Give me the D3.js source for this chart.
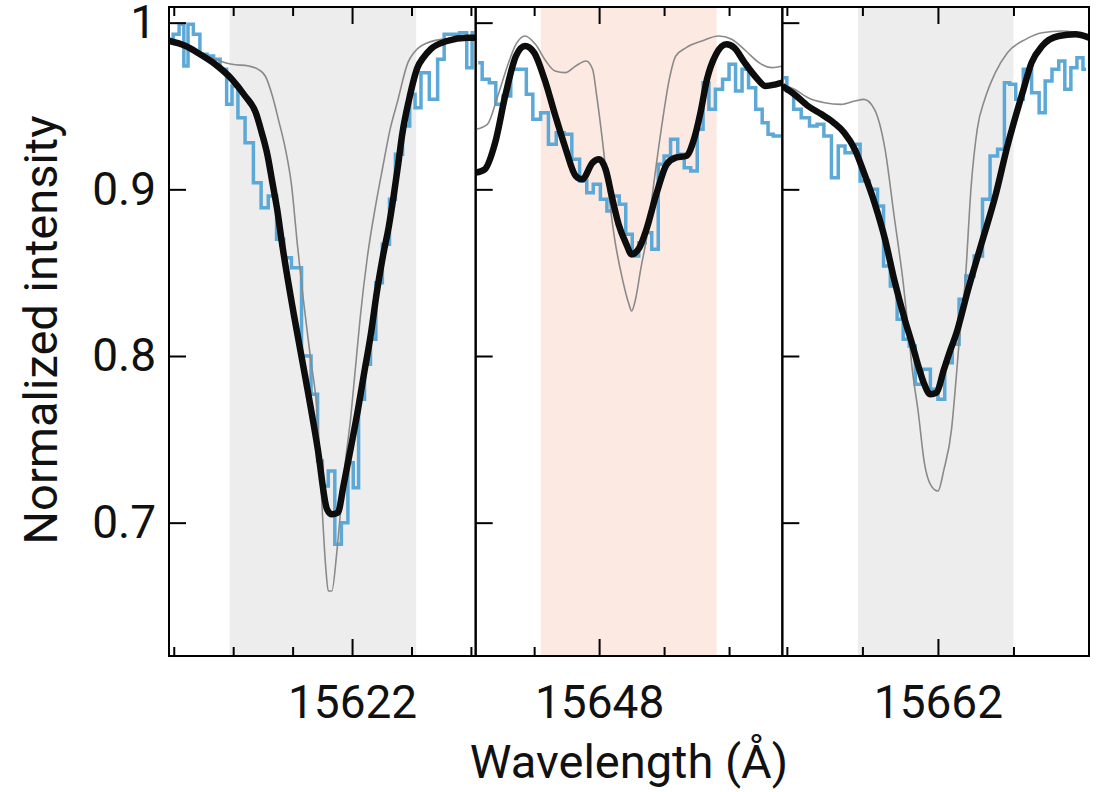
<!DOCTYPE html>
<html>
<head>
<meta charset="utf-8">
<style>
  body { margin: 0; background: #fff; }
  .frame { fill: none; stroke: #000; stroke-width: 2; }
  .tick line { stroke: #000; stroke-width: 2; }
  .tick text { font-family: Roboto, sans-serif; font-size: 46px; fill: #111; }
  .label { font-family: Roboto, sans-serif; font-size: 47px; fill: #111; }
</style>
<title>Normalized intensity vs wavelength</title>
</head>
<body>
<script src="https://cdn.jsdelivr.net/npm/d3@7"></script>
<script>

// wavelength windows (Å) and highlighted regions
var range1 = [15620.46, 15623.04], range2 = [15647.05, 15649.41], range3 = [15660.97, 15663.0];
var band1 = [15620.97, 15622.54], band2 = [15647.55, 15648.905], band3 = [15661.47, 15662.50];

// tick values
var yTicks = [0.7, 0.8, 0.9, 1];
var major1 = [15622], minor1 = [15620.5, 15621, 15621.5, 15622.5, 15623];
var major2 = [15648], minor2 = [15647.5, 15648.5, 15649];
var major3 = [15662], minor3 = [15661, 15661.5, 15662.5];

// observed spectrum (binned), [wavelength, intensity]
var obs1 = [[15620.47,0.990],[15620.52,0.993],[15620.57,0.999],[15620.60,0.974],[15620.64,0.999],[15620.69,0.993],[15620.75,0.981],[15620.81,0.980],[15620.86,0.978],[15620.92,0.972],[15620.97,0.951],[15621.01,0.962],[15621.07,0.943],[15621.13,0.928],[15621.21,0.904],[15621.26,0.889],[15621.33,0.896],[15621.40,0.870],[15621.45,0.859],[15621.53,0.853],[15621.62,0.800],[15621.69,0.777],[15621.73,0.737],[15621.77,0.722],[15621.83,0.731],[15621.88,0.687],[15621.94,0.700],[15621.99,0.736],[15622.03,0.721],[15622.08,0.774],[15622.13,0.795],[15622.18,0.810],[15622.22,0.844],[15622.29,0.867],[15622.34,0.894],[15622.39,0.921],[15622.46,0.938],[15622.51,0.957],[15622.55,0.949],[15622.61,0.970],[15622.69,0.954],[15622.75,0.978],[15622.80,0.993],[15622.87,0.993],[15622.94,0.994],[15622.99,0.973],[15623.03,0.994]];
var obs2 = [[15647.07,0.976],[15647.13,0.966],[15647.18,0.964],[15647.23,0.951],[15647.29,0.956],[15647.35,0.972],[15647.42,0.972],[15647.46,0.957],[15647.52,0.942],[15647.58,0.946],[15647.64,0.927],[15647.70,0.934],[15647.76,0.933],[15647.82,0.918],[15647.88,0.905],[15647.93,0.898],[15647.98,0.903],[15648.04,0.894],[15648.08,0.887],[15648.13,0.896],[15648.18,0.891],[15648.23,0.873],[15648.28,0.860],[15648.33,0.868],[15648.38,0.874],[15648.43,0.864],[15648.48,0.915],[15648.52,0.920],[15648.58,0.930],[15648.63,0.921],[15648.68,0.913],[15648.73,0.911],[15648.78,0.936],[15648.82,0.964],[15648.87,0.948],[15648.92,0.960],[15648.98,0.966],[15649.02,0.975],[15649.08,0.959],[15649.12,0.972],[15649.18,0.961],[15649.23,0.948],[15649.28,0.940],[15649.32,0.933],[15649.36,0.932],[15649.40,0.932]];
var obs3 = [[15660.98,0.967],[15661.02,0.959],[15661.07,0.948],[15661.12,0.943],[15661.18,0.938],[15661.22,0.939],[15661.27,0.932],[15661.32,0.907],[15661.36,0.926],[15661.41,0.922],[15661.46,0.927],[15661.51,0.905],[15661.58,0.900],[15661.62,0.890],[15661.66,0.854],[15661.71,0.842],[15661.75,0.822],[15661.79,0.810],[15661.83,0.806],[15661.87,0.783],[15661.92,0.792],[15661.98,0.780],[15662.02,0.774],[15662.07,0.796],[15662.12,0.807],[15662.16,0.834],[15662.21,0.848],[15662.27,0.860],[15662.32,0.894],[15662.37,0.920],[15662.42,0.924],[15662.46,0.964],[15662.49,0.963],[15662.54,0.954],[15662.59,0.972],[15662.65,0.958],[15662.69,0.946],[15662.73,0.965],[15662.78,0.972],[15662.82,0.977],[15662.86,0.960],[15662.90,0.973],[15662.94,0.979],[15662.98,0.972]];

// best fit (thick black)
var fit1 = [[15620.46,0.989],[15620.60,0.986],[15620.70,0.982],[15620.85,0.975],[15620.99,0.966],[15621.10,0.956],[15621.19,0.946],[15621.24,0.934],[15621.29,0.920],[15621.33,0.904],[15621.37,0.888],[15621.41,0.868],[15621.51,0.825],[15621.61,0.786],[15621.71,0.745],[15621.79,0.708],[15621.83,0.705],[15621.88,0.706],[15621.93,0.723],[15621.99,0.745],[15622.05,0.768],[15622.10,0.789],[15622.16,0.814],[15622.21,0.839],[15622.26,0.860],[15622.31,0.878],[15622.35,0.896],[15622.39,0.916],[15622.42,0.932],[15622.48,0.954],[15622.52,0.966],[15622.55,0.973],[15622.60,0.979],[15622.66,0.984],[15622.80,0.989],[15622.97,0.991],[15623.04,0.991]];
var fit2 = [[15647.05,0.910],[15647.12,0.912],[15647.20,0.928],[15647.28,0.957],[15647.36,0.980],[15647.43,0.986],[15647.50,0.982],[15647.58,0.966],[15647.66,0.945],[15647.74,0.925],[15647.82,0.908],[15647.87,0.906],[15647.95,0.916],[15648.00,0.918],[15648.05,0.912],[15648.10,0.895],[15648.15,0.879],[15648.21,0.867],[15648.25,0.861],[15648.31,0.865],[15648.36,0.875],[15648.44,0.897],[15648.52,0.915],[15648.59,0.919],[15648.67,0.920],[15648.73,0.930],[15648.78,0.946],[15648.83,0.966],[15648.90,0.981],[15648.98,0.987],[15649.04,0.985],[15649.12,0.976],[15649.21,0.967],[15649.28,0.962],[15649.36,0.963],[15649.41,0.964]];
var fit3 = [[15660.97,0.962],[15661.05,0.957],[15661.14,0.950],[15661.23,0.945],[15661.31,0.940],[15661.38,0.934],[15661.45,0.924],[15661.51,0.910],[15661.58,0.892],[15661.65,0.870],[15661.71,0.846],[15661.78,0.822],[15661.83,0.807],[15661.87,0.794],[15661.91,0.783],[15661.95,0.777],[15661.99,0.778],[15662.04,0.792],[15662.08,0.803],[15662.12,0.813],[15662.20,0.840],[15662.29,0.868],[15662.38,0.896],[15662.46,0.926],[15662.56,0.958],[15662.62,0.976],[15662.69,0.986],[15662.80,0.992],[15662.91,0.993],[15663.00,0.991]];

// reference model (thin grey)
var model1 = [[15620.46,0.988],[15620.60,0.986],[15620.70,0.982],[15620.85,0.978],[15620.99,0.975],[15621.13,0.974],[15621.21,0.972],[15621.27,0.968],[15621.33,0.956],[15621.38,0.942],[15621.44,0.924],[15621.49,0.903],[15621.54,0.867],[15621.59,0.834],[15621.65,0.799],[15621.71,0.762],[15621.74,0.720],[15621.78,0.672],[15621.80,0.659],[15621.83,0.659],[15621.87,0.681],[15621.90,0.704],[15621.94,0.734],[15621.99,0.764],[15622.03,0.794],[15622.07,0.824],[15622.13,0.860],[15622.20,0.891],[15622.26,0.914],[15622.32,0.936],[15622.38,0.952],[15622.47,0.976],[15622.52,0.982],[15622.58,0.986],[15622.75,0.990],[15622.97,0.991],[15623.04,0.991]];
var model2 = [[15647.05,0.936],[15647.14,0.939],[15647.22,0.956],[15647.29,0.973],[15647.36,0.987],[15647.43,0.992],[15647.51,0.987],[15647.59,0.977],[15647.66,0.971],[15647.74,0.970],[15647.82,0.974],[15647.90,0.977],[15647.95,0.972],[15647.98,0.957],[15648.02,0.933],[15648.06,0.906],[15648.12,0.870],[15648.18,0.846],[15648.23,0.831],[15648.25,0.827],[15648.28,0.834],[15648.32,0.852],[15648.37,0.873],[15648.42,0.903],[15648.48,0.937],[15648.54,0.966],[15648.59,0.980],[15648.67,0.985],[15648.79,0.989],[15648.92,0.992],[15649.02,0.990],[15649.13,0.983],[15649.23,0.976],[15649.33,0.973],[15649.41,0.974]];
var model3 = [[15660.97,0.963],[15661.05,0.960],[15661.14,0.955],[15661.25,0.952],[15661.36,0.951],[15661.45,0.953],[15661.51,0.954],[15661.58,0.948],[15661.65,0.924],[15661.71,0.884],[15661.77,0.844],[15661.80,0.819],[15661.83,0.792],[15661.87,0.766],[15661.91,0.736],[15661.95,0.723],[15662.00,0.719],[15662.04,0.732],[15662.09,0.756],[15662.12,0.786],[15662.14,0.808],[15662.18,0.844],[15662.22,0.902],[15662.26,0.936],[15662.31,0.954],[15662.38,0.970],[15662.46,0.982],[15662.58,0.990],[15662.69,0.994],[15662.82,0.995],[15662.99,0.993]];

var svgW = 1099, svgH = 792;
var plotLeft = 169, plotRight = 1089, plotTop = 7, plotBottom = 656;
var panelW = (plotRight - plotLeft) / 3;

var panels = [
    {range: range1, band: band1, bandColor: '#ededed', major: major1, minor: minor1, obs: obs1, fit: fit1, model: model1},
    {range: range2, band: band2, bandColor: '#fce9e2', major: major2, minor: minor2, obs: obs2, fit: fit2, model: model2},
    {range: range3, band: band3, bandColor: '#ededed', major: major3, minor: minor3, obs: obs3, fit: fit3, model: model3},
];

var y = d3.scaleLinear()
    .domain([0.62, 1.0094])
    .range([plotBottom, plotTop]);

var svg = d3.select('body').append('svg')
    .attr('width', svgW)
    .attr('height', svgH);

panels.forEach(function(p, i) {
    var x = d3.scaleLinear().domain(p.range).range([0, panelW]);
    var g = svg.append('g').attr('transform', `translate(${plotLeft + i * panelW},0)`);

    g.append('clipPath').attr('id', 'clip' + i)
      .append('rect')
        .attr('x', 0).attr('y', plotTop)
        .attr('width', panelW).attr('height', plotBottom - plotTop);

    var plot = g.append('g').attr('clip-path', `url(#clip${i})`);

    // shaded line window
    plot.append('rect')
        .attr('x', x(p.band[0]))
        .attr('width', x(p.band[1]) - x(p.band[0]))
        .attr('y', plotTop)
        .attr('height', plotBottom - plotTop)
        .style('fill', p.bandColor);

    var stepLine = d3.line().x(d => x(d[0])).y(d => y(d[1])).curve(d3.curveStep);
    var smoothLine = d3.line().x(d => x(d[0])).y(d => y(d[1])).curve(d3.curveMonotoneX);

    plot.append('path').datum(p.obs)
        .attr('d', stepLine)
        .style('fill', 'none').style('stroke', '#5ca8d6').style('stroke-width', 3.5);

    plot.append('path').datum(p.model)
        .attr('d', smoothLine)
        .style('fill', 'none').style('stroke', '#8a8a8a').style('stroke-width', 1.6);

    plot.append('path').datum(p.fit)
        .attr('d', smoothLine)
        .style('fill', 'none').style('stroke', '#0d0d0d').style('stroke-width', 6.5)
        .style('stroke-linejoin', 'round');

    // x ticks, pointing inward at bottom and top
    g.append('g').attr('transform', `translate(0,${plotBottom})`)
        .call(d3.axisBottom(x).tickValues(p.minor).tickSize(-9).tickFormat(''));
    g.append('g').attr('transform', `translate(0,${plotBottom})`)
        .call(d3.axisBottom(x).tickValues(p.major).tickSize(-17).tickPadding(29).tickFormat(d3.format('d')));
    g.append('g').attr('transform', `translate(0,${plotTop})`)
        .call(d3.axisTop(x).tickValues(p.minor).tickSize(-9).tickFormat(''));
    g.append('g').attr('transform', `translate(0,${plotTop})`)
        .call(d3.axisTop(x).tickValues(p.major).tickSize(-17).tickFormat(''));

    // y ticks on the left edge of each panel, labels only on the first
    g.append('g')
        .call(d3.axisLeft(y).tickValues(yTicks).tickSize(-17).tickPadding(13)
            .tickFormat(i === 0 ? d => String(d) : ''));

    g.selectAll('.domain').remove();

    g.append('rect').attr('class', 'frame')
        .attr('x', 0).attr('y', plotTop)
        .attr('width', panelW).attr('height', plotBottom - plotTop);
});

svg.append('text')
    .attr('class', 'label')
    .attr('transform', 'translate(57,330) rotate(-90)')
    .attr('text-anchor', 'middle')
    .text('Normalized intensity');

svg.append('text')
    .attr('class', 'label')
    .attr('x', 629)
    .attr('y', 778)
    .attr('text-anchor', 'middle')
    .text('Wavelength (Å)');

</script>
</body>
</html>
